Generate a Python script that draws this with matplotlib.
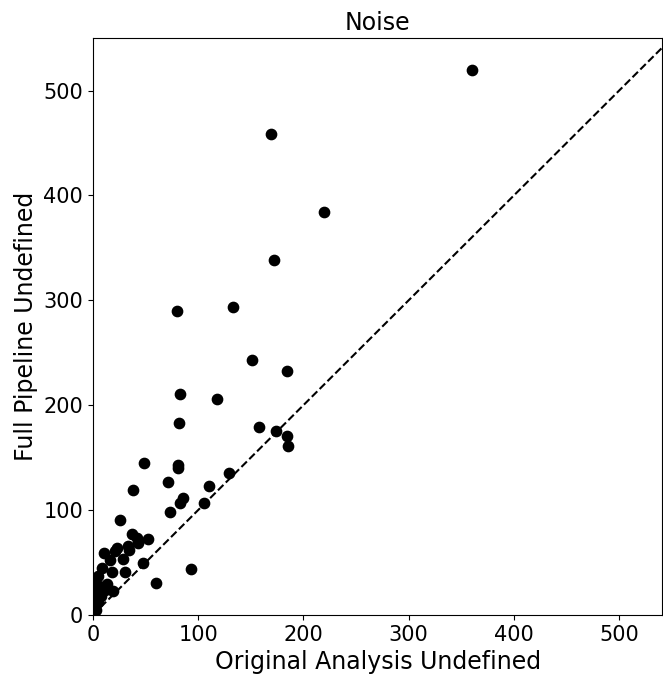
import matplotlib
matplotlib.use('Agg')
import matplotlib.pyplot as plt

original_undefined = [
    360, 169, 220, 172, 133, 80, 151, 184, 83, 118,
    82, 158, 174, 184, 185, 49, 81, 81, 129, 110,
    71, 38, 86, 83, 106, 73, 26, 52, 37, 42,
    43, 33, 34, 23, 21, 11, 16, 9, 18, 31,
    48, 29, 5, 13, 12, 19, 60, 93, 2, 1,
    3, 1, 5, 3, 8, 6,
]
pipeline_undefined = [
    520, 459, 384, 338, 294, 290, 243, 233, 211, 206,
    183, 179, 175, 171, 161, 145, 143, 140, 135, 123,
    127, 119, 112, 107, 107, 98, 91, 72, 77, 73,
    69, 66, 62, 64, 61, 59, 52, 45, 41, 41,
    50, 53, 37, 30, 24, 23, 31, 44, 30, 22,
    15, 10, 12, 5, 18, 28,
]

fig = plt.figure(figsize=(6.63, 6.74), dpi=100)
ax = fig.add_axes([0.140, 0.0875, 0.859, 0.856])

ax.scatter(original_undefined, pipeline_undefined, color='black', s=55, zorder=3)
ax.plot([0, 600], [0, 600], color='black', linestyle='--', linewidth=1.5)

ax.set_xlim(0, 541)
ax.set_ylim(0, 550)
ax.set_xticks([0, 100, 200, 300, 400, 500])
ax.set_yticks([0, 100, 200, 300, 400, 500])
ax.tick_params(labelsize=15)
ax.set_xlabel('Original Analysis Undefined', fontsize=17)
ax.set_ylabel('Full Pipeline Undefined', fontsize=17)
ax.set_title('Noise', fontsize=17)

plt.savefig('out.png', dpi=100)
